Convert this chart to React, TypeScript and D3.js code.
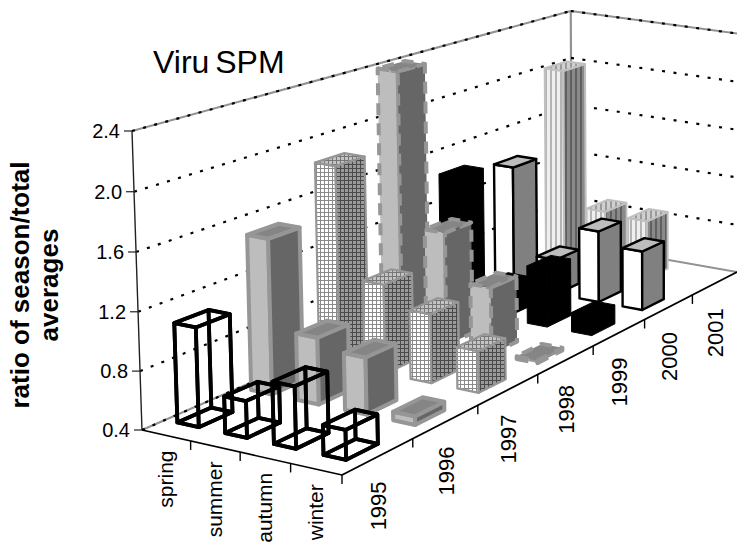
import React from "react";
import * as d3 from "d3";

const seasons = ["spring", "summer", "autumn", "winter"];
const years = ["1995", "1996", "1997", "1998", "1999", "2000", "2001"];
const yTicks = [0.4, 0.8, 1.2, 1.6, 2.0, 2.4];

const y1995 = [1.08, 0.65, 0.82, 0.6];
const y1996 = [1.5, 0.87, 0.8, 0.46];
const y1997 = [1.85, 1.05, 0.9, 0.7];
const y1998 = [2.4, 1.25, 0.9, 0.42];
const y1999 = [1.45, 0.65, 0.85, 0.55];
const y2000 = [1.37, 0.68, 0.97, 0.87];
const y2001 = [2.02, 0.9, 0.88, 0.4];
const seriesValues = [y1995, y1996, y1997, y1998, y1999, y2000, y2001];

const W = 737, H = 544;
const FONT = "'Liberation Sans', Arial, sans-serif";

// calibration of the perspective: floor corners and two wall-top corners
const calib: [number, number, number, number, number][] = [
  [0, 0, 0, 142, 430],
  [1, 0, 0, 342, 475],
  [1, 1, 0, 737, 272],
  [0, 1, 0, 572, 243],
  [0, 0, 1, 132, 131],
];
const calibExtraY: [number, number, number, number] = [0, 1, 1, 11];

function solve(A: number[][], b: number[]) {
  const n = b.length;
  const M = A.map((r, i) => [...r, b[i]]);
  for (let c = 0; c < n; c++) {
    let p = c;
    for (let r = c + 1; r < n; r++) if (Math.abs(M[r][c]) > Math.abs(M[p][c])) p = r;
    [M[c], M[p]] = [M[p], M[c]];
    for (let r = 0; r < n; r++) {
      if (r === c) continue;
      const f = M[r][c] / M[c][c];
      for (let k = c; k <= n; k++) M[r][k] -= f * M[c][k];
    }
  }
  return M.map((r, i) => r[n] / r[i]);
}

const rowX = (u: number, v: number, h: number, x: number) => [u, v, h, 1, 0, 0, 0, 0, -u * x, -v * x, -h * x];
const rowY = (u: number, v: number, h: number, y: number) => [0, 0, 0, 0, u, v, h, 1, -u * y, -v * y, -h * y];
const A: number[][] = [], B: number[] = [];
calib.forEach(([u, v, h, x, y]) => {
  A.push(rowX(u, v, h, x)); B.push(x);
  A.push(rowY(u, v, h, y)); B.push(y);
});
A.push(rowY(calibExtraY[0], calibExtraY[1], calibExtraY[2], calibExtraY[3])); B.push(calibExtraY[3]);
const m = solve(A, B);

function project(u: number, v: number, h: number): [number, number] {
  const w = m[8] * u + m[9] * v + m[10] * h + 1;
  return [(m[0] * u + m[1] * v + m[2] * h + m[3]) / w, (m[4] * u + m[5] * v + m[6] * h + m[7]) / w];
}

const uBand = d3.scaleBand<string>().domain(seasons).range([-0.012, 0.988]).paddingInner(0.55).paddingOuter(0.3);
const vBand = d3.scaleBand<string>().domain(years).range([0, 1]).paddingInner(0.55).paddingOuter(0.3);
const hScale = d3.scaleLinear().domain([0.4, 2.4]).range([0, 1]);
const line = d3.line<[number, number]>();
const segment = (a: [number, number, number], b: [number, number, number]) =>
  line([project(...a), project(...b)]) as string;
const poly = (pts: [number, number, number][]) => (line(pts.map((p) => project(...p))) as string) + "Z";

type Style = {
  front: string; side: string; top: string; stroke: string; sw: number; dash?: string; wire?: boolean;
};
const styles: Style[] = [
  { front: "none", side: "none", top: "none", stroke: "#000", sw: 3.8, wire: true },
  { front: "#bdbdbd", side: "#666", top: "#858585", stroke: "#969696", sw: 4 },
  { front: "url(#hFront)", side: "url(#hSide)", top: "url(#hTop)", stroke: "#969696", sw: 2.2 },
  { front: "#bdbdbd", side: "#666", top: "#858585", stroke: "#969696", sw: 4, dash: "12 8" },
  { front: "#000", side: "#000", top: "#000", stroke: "#000", sw: 1 },
  { front: "#fff", side: "#808080", top: "#bdbdbd", stroke: "#000", sw: 2.4 },
  { front: "url(#sFront)", side: "url(#sSide)", top: "url(#sTop)", stroke: "#c0c0c0", sw: 2 },
];

function Bar({ yi, si }: { yi: number; si: number }) {
  const value = seriesValues[yi][si];
  const u0 = uBand(seasons[si])!, u1 = u0 + uBand.bandwidth();
  const v0 = vBand(years[yi])!, v1 = v0 + vBand.bandwidth();
  const h0 = 0, h1 = hScale(value);
  const st = styles[yi];
  const front = poly([[u0, v0, h0], [u1, v0, h0], [u1, v0, h1], [u0, v0, h1]]);
  const side = poly([[u1, v0, h0], [u1, v1, h0], [u1, v1, h1], [u1, v0, h1]]);
  const top = poly([[u0, v0, h1], [u1, v0, h1], [u1, v1, h1], [u0, v1, h1]]);
  const common = { stroke: st.stroke, strokeWidth: st.sw, strokeLinejoin: "round" as const, strokeDasharray: st.dash };
  if (st.wire) {
    const back = poly([[u0, v1, h0], [u1, v1, h0], [u1, v1, h1], [u0, v1, h1]]);
    const left = poly([[u0, v0, h0], [u0, v1, h0], [u0, v1, h1], [u0, v0, h1]]);
    const bottom = poly([[u0, v0, h0], [u1, v0, h0], [u1, v1, h0], [u0, v1, h0]]);
    return (
      <g fill="none" {...common}>
        <path d={back} /><path d={left} /><path d={bottom} /><path d={front} /><path d={side} /><path d={top} />
      </g>
    );
  }
  return (
    <g {...common}>
      <path d={front} fill={st.front} />
      <path d={side} fill={st.side} />
      <path d={top} fill={st.top} />
    </g>
  );
}

function gridPattern(id: string, bg: string, ink: string) {
  return (
    <pattern id={id} patternUnits="userSpaceOnUse" width={4} height={4}>
      <rect width={4} height={4} fill={bg} />
      <path d="M0.5,0V4M0,0.5H4" stroke={ink} strokeWidth={1} />
    </pattern>
  );
}
function stripePattern(id: string, bg: string, ink: string) {
  return (
    <pattern id={id} patternUnits="userSpaceOnUse" width={5} height={5}>
      <rect width={5} height={5} fill={bg} />
      <rect width={2} height={5} fill={ink} />
    </pattern>
  );
}

export default function App() {
  const hT = yTicks.map((t) => hScale(t));
  return (
    <svg width={W} height={H} viewBox={`0 0 ${W} ${H}`} style={{ position: "absolute", left: 0, top: 0, background: "#fff" }} fontFamily={FONT}>
      <defs>
        {gridPattern("hFront", "#fff", "#8a8a8a")}
        {gridPattern("hSide", "#9a9a9a", "#4a4a4a")}
        {gridPattern("hTop", "#c4c4c4", "#777")}
        {stripePattern("sFront", "#efefef", "#b4b4b4")}
        {stripePattern("sSide", "#8a8a8a", "#606060")}
        {stripePattern("sTop", "#d0d0d0", "#9a9a9a")}
      </defs>

      {/* walls */}
      <g stroke="#929292" fill="none" strokeWidth={2}>
        <path d={segment([0, 0, 1], [0, 1, 1])} />
        <path d={segment([0, 1, 1], [1, 1, 1])} />
        <path d={segment([0, 1, 0], [0, 1, 1])} strokeWidth={2.2} />
        <path d={segment([0, 0, 0], [0, 1, 0])} />
        <path d={segment([0, 1, 0], [1, 1, 0])} />
      </g>
      <g stroke="#000" fill="none" strokeWidth={2.2} strokeDasharray="3 8.5">
        {hT.map((h, i) => (
          <g key={i}>
            <path d={segment([0, 0, h], [0, 1, h])} />
            {i > 0 && <path d={segment([0, 1, h], [1, 1, h])} />}
          </g>
        ))}
      </g>

      {/* bars, painted from back to front */}
      {d3.range(years.length - 1, -1, -1).map((yi) =>
        seasons.map((_, si) =>
          seriesValues[yi][si] > 0.4 ? <Bar key={yi + "-" + si} yi={yi} si={si} /> : null
        )
      )}

      {/* axes */}
      <path d={segment([0, 0, 0], [0, 0, 1])} stroke="#222" strokeWidth={1.4} fill="none" />
      <path d={segment([0, 0, 0], [1, 0, 0])} stroke="#000" strokeWidth={1.6} fill="none" />
      <path d={segment([1, 0, 0], [1, 1, 0])} stroke="#000" strokeWidth={1.8} fill="none" />
      {yTicks.map((t, i) => {
        const [x, y] = project(0, 0, hT[i]);
        return (
          <g key={t}>
            <line x1={x - 8} x2={x} y1={y} y2={y} stroke="#222" strokeWidth={1.2} />
            <text x={x - 12} y={y + 7} textAnchor="end" fontSize={20} fill="#000">{t.toFixed(1)}</text>
          </g>
        );
      })}
      {d3.range(1, seasons.length + 1).map((k) => {
        const [x, y] = project(k / seasons.length, 0, 0);
        return <line key={k} x1={x} x2={x} y1={y} y2={y + 9} stroke="#000" strokeWidth={1.4} />;
      })}
      {d3.range(1, years.length).map((k) => {
        const [x, y] = project(1, k / years.length, 0);
        return <line key={k} x1={x} x2={x} y1={y} y2={y + 9} stroke="#000" strokeWidth={1.4} />;
      })}
      {seasons.map((s) => {
        const [x, y] = project((seasons.indexOf(s) + 0.5) / seasons.length, 0, 0);
        return (
          <text key={s} transform={`translate(${x + 7},${y + 15}) rotate(-90)`} textAnchor="end" fontSize={21} fill="#000">{s}</text>
        );
      })}
      {years.map((s) => {
        const [x, y] = project(1, (years.indexOf(s) + 0.5) / years.length, 0);
        return (
          <text key={s} transform={`translate(${x + 8},${y + 25}) rotate(-90)`} textAnchor="end" fontSize={22} fill="#000">{s}</text>
        );
      })}

      <text x={153} y={73} fontSize={32} wordSpacing={-3} fill="#000">Viru SPM</text>
      <text transform="translate(29,285) rotate(-90)" textAnchor="middle" fontSize={26} fontWeight="bold" fill="#000">ratio of season/total</text>
      <text transform="translate(58,285) rotate(-90)" textAnchor="middle" fontSize={26} fontWeight="bold" fill="#000">averages</text>
    </svg>
  );
}
